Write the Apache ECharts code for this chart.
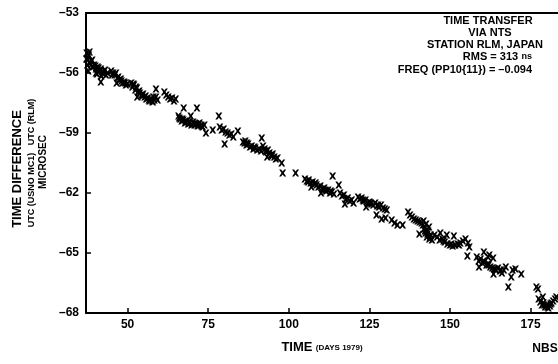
<!DOCTYPE html>
<html>
<head>
<meta charset="utf-8">
<script src="https://cdn.jsdelivr.net/npm/echarts@6/dist/echarts.min.js"></script>
<style>
  html, body { margin: 0; padding: 0; background: #fff; }
  #chart { width: 558px; height: 364px; }
</style>
</head>
<body>
<div id="chart"></div>
<script>
// days of 1979 vs. UTC(USNO MC1) - UTC(RLM), microseconds
const samples = [
  [37.3,-55.0],[37.6,-55.3],[38.0,-55.1],[38.3,-55.5],[37.5,-55.6],[38.8,-55.4],[39.2,-55.7],[37.8,-55.9],[38.2,-54.95],
  [37.2,-55.3],[38.6,-55.6],[39.0,-55.35],
  [39.6,-55.6],[40.2,-55.8],[40.7,-55.7],[41.2,-55.9],[41.7,-55.8],[42.2,-56.0],[42.8,-55.9],[43.3,-56.1],[43.8,-56.0],[40.5,-56.05],[41.8,-56.15],[40.2,-56.0],[41.7,-56.45],
  [40.0,-55.65],[41.0,-55.75],[42.5,-56.05],[43.0,-55.85],
  [44.9,-55.9],[45.5,-56.0],[46.0,-56.1],[46.4,-56.0],[46.9,-56.25],[47.4,-56.35],[47.9,-56.3],[48.4,-56.5],[48.9,-56.45],[49.5,-56.6],[50.0,-56.55],[46.6,-56.5],
  [45.2,-56.1],[47.1,-56.2],[48.1,-56.4],[49.2,-56.5],
  [51.1,-56.5],[51.5,-56.7],[52.0,-56.6],[52.4,-56.85],[52.9,-56.75],[53.3,-56.95],[53.8,-57.0],[54.3,-57.1],[54.8,-57.05],[55.3,-57.2],[55.8,-57.3],[56.3,-57.25],[56.8,-57.4],[57.3,-57.3],[57.8,-57.45],[58.3,-57.35],[58.8,-57.2],[59.3,-57.35],[53.0,-57.2],[58.8,-56.8],
  [51.8,-56.55],[52.6,-56.7],[53.6,-56.9],[54.6,-57.15],[55.6,-57.15],[56.6,-57.35],[57.6,-57.4],[58.0,-57.2],
  [61.4,-56.95],[62.0,-57.1],[62.6,-57.2],[63.2,-57.3],[63.8,-57.25],[64.4,-57.4],[64.9,-57.3],
  [67.4,-57.75],[71.5,-57.75],
  [65.8,-58.15],[66.3,-58.3],[66.8,-58.4],[67.3,-58.35],[67.8,-58.5],[68.3,-58.45],[68.8,-58.55],[69.3,-58.5],[69.8,-58.6],[70.3,-58.45],[70.8,-58.6],[71.3,-58.55],[71.8,-58.65],[72.3,-58.5],[72.8,-58.6],[73.3,-58.7],[73.8,-58.6],[69.6,-58.15],
  [66.0,-58.25],[67.0,-58.3],[68.0,-58.4],[69.0,-58.45],[70.5,-58.55],[72.0,-58.55],[73.0,-58.65],
  [74.3,-59.0],[76.4,-58.85],[78.3,-58.15],
  [78.6,-58.7],[79.2,-58.85],[79.8,-58.8],[80.4,-58.95],[81.0,-59.0],[81.6,-59.1],[82.2,-59.05],[82.8,-59.2],[80.1,-59.55],[84.2,-58.9],
  [85.8,-59.45],[86.3,-59.5],[86.9,-59.6],[87.4,-59.55],[88.0,-59.7],[88.5,-59.65],[89.0,-59.8],[89.6,-59.75],[90.2,-59.85],[90.8,-59.8],[91.4,-59.9],[86.5,-59.4],[91.6,-59.25],
  [87.0,-59.5],[89.3,-59.7],
  [92.0,-59.65],[92.5,-59.8],[93.0,-59.95],[93.5,-59.85],[94.0,-60.0],[94.5,-60.1],[95.0,-60.05],[95.5,-60.2],[96.0,-60.3],[96.5,-60.25],[93.3,-60.2],
  [92.8,-59.9],[94.8,-60.15],
  [97.8,-60.5],[98.1,-61.0],[102.1,-61.0],
  [105.0,-61.3],[105.6,-61.4],[106.2,-61.35],[106.8,-61.5],[107.4,-61.45],[108.0,-61.55],[108.6,-61.6],[109.2,-61.7],[109.8,-61.65],[110.4,-61.8],[111.0,-61.75],[111.6,-61.9],[112.2,-61.85],[112.8,-62.0],[113.4,-61.95],[114.0,-62.05],[107.0,-61.7],[110.0,-62.0],[113.6,-61.15],[115.5,-61.6],
  [106.0,-61.45],[108.3,-61.5],[111.3,-61.85],[113.0,-61.9],
  [115.9,-62.0],[116.5,-62.15],[117.1,-62.1],[117.7,-62.3],[118.3,-62.25],[118.9,-62.4],[119.5,-62.35],[120.1,-62.5],[117.4,-62.55],
  [121.5,-62.2],[122.0,-62.3],[122.6,-62.25],[123.2,-62.4],[123.8,-62.35],[124.4,-62.5],[125.0,-62.45],[125.6,-62.55],[126.2,-62.6],[126.8,-62.5],[127.4,-62.65],[128.0,-62.7],[128.6,-62.6],[129.2,-62.75],[129.8,-62.8],[130.4,-62.85],[124.0,-62.7],
  [123.0,-62.35],[125.3,-62.5],[127.7,-62.6],
  [127.2,-63.1],[128.8,-63.3],[130.0,-63.25],[131.9,-63.35],[132.8,-63.5],[133.7,-63.6],[135.3,-63.6],
  [137.0,-62.95],[137.6,-63.1],[138.2,-63.2],[138.8,-63.3],[139.4,-63.35],[140.0,-63.4],[140.6,-63.45],[141.2,-63.5],[141.8,-63.4],
  [141.6,-63.6],[142.0,-63.8],[142.4,-64.0],[142.8,-64.2],[143.2,-63.9],[143.6,-64.3],[144.0,-64.1],[144.4,-64.35],[142.6,-63.55],[143.5,-63.7],[140.5,-64.05],
  [142.2,-63.9],[143.0,-64.05],[143.8,-64.2],
  [145.2,-64.1],[146.0,-64.2],[146.8,-64.35],[147.6,-64.3],[148.4,-64.45],[149.2,-64.55],[150.0,-64.6],[150.8,-64.65],[151.6,-64.6],[152.4,-64.55],[153.2,-64.5],[154.0,-64.4],[154.8,-64.3],[155.6,-64.5],[147.0,-64.0],[149.0,-64.1],[151.2,-64.15],[156.0,-64.7],[155.4,-65.15],
  [148.0,-64.4],[150.4,-64.55],[152.8,-64.6],
  [158.3,-65.2],[158.9,-65.4],[159.5,-65.3],[160.1,-65.5],[160.7,-65.45],[161.3,-65.6],[161.9,-65.55],[162.5,-65.7],[163.1,-65.75],[163.7,-65.8],[164.3,-65.85],[164.9,-65.75],[165.5,-65.9],[166.1,-66.0],[166.7,-65.85],[167.3,-65.7],[160.5,-64.95],[161.8,-65.2],[159.0,-65.7],[163.5,-66.05],[162.2,-65.1],[163.4,-65.25],
  [160.4,-65.4],[162.0,-65.6],[164.0,-65.8],[165.8,-65.85],
  [169.4,-65.85],[170.3,-65.8],[172.1,-66.05],[169.0,-66.2],[168.1,-66.7],[176.8,-66.7],[177.3,-66.8],
  [177.5,-67.3],[178.0,-67.45],[178.5,-67.6],[179.0,-67.5],[179.5,-67.7],[180.0,-67.6],[180.5,-67.75],[181.0,-67.65],[181.5,-67.5],[182.0,-67.4],[182.6,-67.3],[183.0,-67.2],[178.8,-67.2],
  [179.2,-67.6],[180.2,-67.7],[181.2,-67.55]
];
const xTicks = [50, 75, 100, 125, 150, 175];
const yTicks = [-68, -65, -62, -59, -56, -53];
const noteLines = ['TIME TRANSFER', 'VIA NTS', 'STATION RLM, JAPAN'];

const font = '"Liberation Sans", Arial, sans-serif';
// thick "x" marker
const xMark = 'path://M0,0 L2.8,0 L5,3 L7.2,0 L10,0 L6.6,5 L10,10 L7.2,10 L5,7 L2.8,10 L0,10 L3.4,5 Z';

const chart = echarts.init(document.getElementById('chart'), null, { renderer: 'canvas' });

chart.setOption({
  animation: false,
  backgroundColor: '#fff',
  textStyle: { fontFamily: font },
  grid: { left: 86, top: 13, right: 0, bottom: 51 },
  xAxis: [
    {
      type: 'value',
      min: 37.1,
      max: 183.5,
      axisLine: { lineStyle: { color: '#000', width: 2 } },
      axisTick: { customValues: xTicks, inside: true, length: 5, lineStyle: { color: '#000', width: 1.5 } },
      axisLabel: {
        customValues: xTicks, color: '#000', fontWeight: 'bold', fontSize: 12, margin: 6, fontFamily: font
      },
      splitLine: { show: false },
      name: '{a|TIME} {b|(DAYS 1979)}',
      nameLocation: 'middle',
      nameGap: 28,
      nameTextStyle: {
        rich: {
          a: { fontSize: 13, fontWeight: 'bold', color: '#000', fontFamily: font },
          b: { fontSize: 8, fontWeight: 'bold', color: '#000', fontFamily: font }
        }
      }
    },
    {
      type: 'value',
      position: 'top',
      min: 37.1,
      max: 183.5,
      axisLine: { show: true, lineStyle: { color: '#000', width: 2 } },
      axisTick: { show: false },
      axisLabel: { show: false },
      splitLine: { show: false }
    }
  ],
  yAxis: {
    type: 'value',
    min: -68,
    max: -53,
    axisLine: { show: true, lineStyle: { color: '#000', width: 2 } },
    axisTick: { customValues: yTicks, inside: true, length: 5, lineStyle: { color: '#000', width: 1.5 } },
    axisLabel: {
      customValues: yTicks, color: '#000', fontWeight: 'bold', fontSize: 12, margin: 7, fontFamily: font,
      formatter: v => String(v).replace('-', '\u2013')
    },
    splitLine: { show: false }
  },
  graphic: [
    { type: 'text', x: 17, y: 169, rotation: Math.PI / 2,
      style: { text: 'TIME DIFFERENCE', font: 'bold 13px ' + font, fill: '#000', align: 'center', verticalAlign: 'middle' } },
    { type: 'text', x: 32, y: 163, rotation: Math.PI / 2,
      style: { text: 'UTC (USNO MC1)   UTC (RLM)', font: 'bold 9px ' + font, fill: '#000', align: 'center', verticalAlign: 'middle' } },
    { type: 'text', x: 43, y: 162, rotation: Math.PI / 2,
      style: { text: 'MICROSEC', font: 'bold 10px ' + font, fill: '#000', align: 'center', verticalAlign: 'middle' } },
    { type: 'text', x: 488, y: 21,
      style: { text: noteLines[0], font: 'bold 11px ' + font, fill: '#000', align: 'center', verticalAlign: 'middle' } },
    { type: 'text', x: 490, y: 33,
      style: { text: noteLines[1], font: 'bold 11px ' + font, fill: '#000', align: 'center', verticalAlign: 'middle' } },
    { type: 'text', x: 485, y: 45,
      style: { text: noteLines[2], font: 'bold 11px ' + font, fill: '#000', align: 'center', verticalAlign: 'middle' } },
    { type: 'text', x: 532, y: 57,
      style: { text: '{a|RMS = 313} {b|ns}', fill: '#000', align: 'right', verticalAlign: 'middle',
        rich: { a: { font: 'bold 11px ' + font, fill: '#000' }, b: { font: 'bold 9px ' + font, fill: '#000' } } } },
    { type: 'text', x: 532, y: 70,
      style: { text: 'FREQ (PP10{11}) = \u20130.094', font: 'bold 11px ' + font, fill: '#000', align: 'right', verticalAlign: 'middle' } },
    { type: 'text', x: 318, y: -4,
      style: { text: 'NTS', font: 'bold 13px ' + font, fill: '#000', align: 'center', verticalAlign: 'middle' } },
    { type: 'text', x: 545, y: 349,
      style: { text: 'NBS', font: 'bold 12px ' + font, fill: '#000', align: 'center', verticalAlign: 'middle' } }
  ],
  series: [
    {
      type: 'scatter',
      data: samples,
      symbol: xMark,
      symbolSize: 7,
      itemStyle: { color: '#000', opacity: 1 },
      clip: true
    }
  ]
});
</script>
</body>
</html>
